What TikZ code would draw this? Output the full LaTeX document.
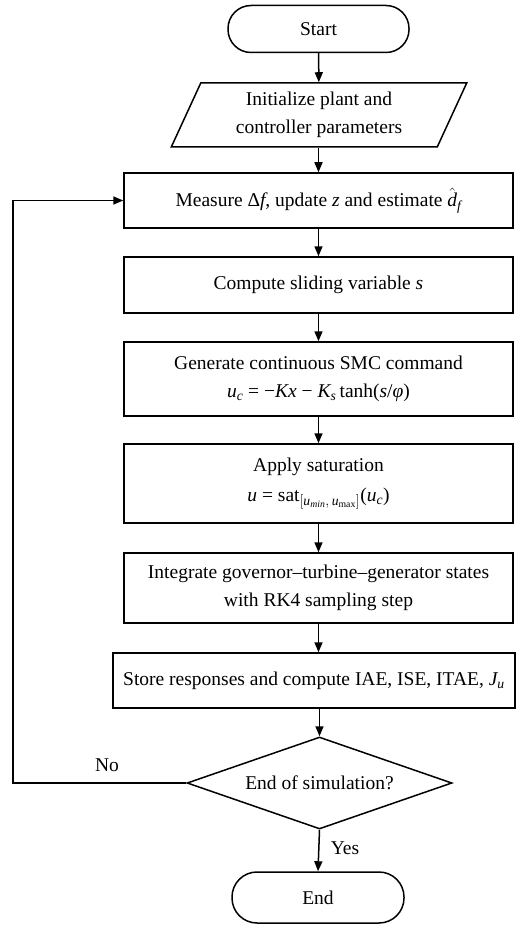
\documentclass[tikz,border=0pt]{standalone}
\usepackage{fontspec}
\usepackage{amsmath}
\setmainfont{Liberation Serif}
\usetikzlibrary{shapes.geometric,arrows.meta}
\newcommand\vi[1]{\textit{#1}}
\begin{document}
\begin{tikzpicture}[x=1pt,y=-1pt,
  font=\fontsize{19.5}{28}\selectfont, line width=1.5pt,
  box/.style={draw, rectangle, minimum width=389pt, align=center, inner sep=0pt},
  term/.style={draw, rectangle, rounded corners=23pt, minimum width=181pt, minimum height=47pt, inner sep=0pt},
  arr/.style={-{Triangle[length=10pt,width=8pt]}}]
\useasboundingbox (0,0) rectangle (516,925);
\node[term] (start) at (318.5,29) {Start};
\node[draw, trapezium, trapezium left angle=65.6, trapezium right angle=114.4,
  trapezium stretches=true, minimum width=296pt, minimum height=64pt, inner sep=0pt, align=center]
  (init) at (319,115) {Initialize plant and\\controller parameters};
\node[box, minimum height=55pt] (meas) at (318.5,200.5)
  {Measure Δ\vi{f}, update \vi{z} and estimate $\hat{\vi{d}}_{\vi{f}}$};
\node[box, minimum height=56pt] (comp) at (318.5,285) {Compute sliding variable \vi{s}};
\node[box, minimum height=74pt] (gen) at (318.5,379)
  {Generate continuous SMC command\\$\vi{u}_{\vi{c}}$ = −\vi{Kx} − $\vi{K}_{\vi{s}}$\,tanh(\vi{s}/\vi{φ})};
\node[box, minimum height=79pt] (sat) at (318.5,483.5)
  {Apply saturation\\[2pt]\vi{u} = sat$_{[\vi{u}_{\vi{min}},\,\vi{u}_{\text{max}}]}$($\vi{u}_{\vi{c}}$)};
\node[box, minimum height=70pt] (integ) at (318.5,588)
  {Integrate governor–turbine–generator states\\with RK4 sampling step};
\node[box, minimum width=402pt, minimum height=55pt] (store) at (314,680.5)
  {Store responses and compute IAE, ISE, ITAE, $\vi{J}_{\vi{u}}$};
\node[draw, diamond, shape aspect=2.88, minimum width=265pt, minimum height=92pt, inner sep=0pt] (dec) at (319.5,783)
  {End of simulation?};
\node[term, minimum width=172pt, minimum height=51pt, rounded corners=25pt] (end) at (318,897.5) {End};
\coordinate (lp) at (13,783);
\draw[arr] (start) -- (init);
\draw[arr] (init.south -| meas.north) -- (meas);
\draw[arr] (meas) -- (comp);
\draw[arr] (comp) -- (gen);
\draw[arr] (gen) -- (sat);
\draw[arr] (sat) -- (integ);
\draw[arr] (integ.south) -- (integ.south |- store.north);
\draw[arr] (store.south -| dec.north) -- (dec.north);
\draw[arr] (dec.south) -- (end.north);
\node (yes) at (345,848) {Yes};
\draw[arr] (dec.west) -- (lp) |- (meas.west);
\node (no) at (107,765) {No};
\end{tikzpicture}
\end{document}
